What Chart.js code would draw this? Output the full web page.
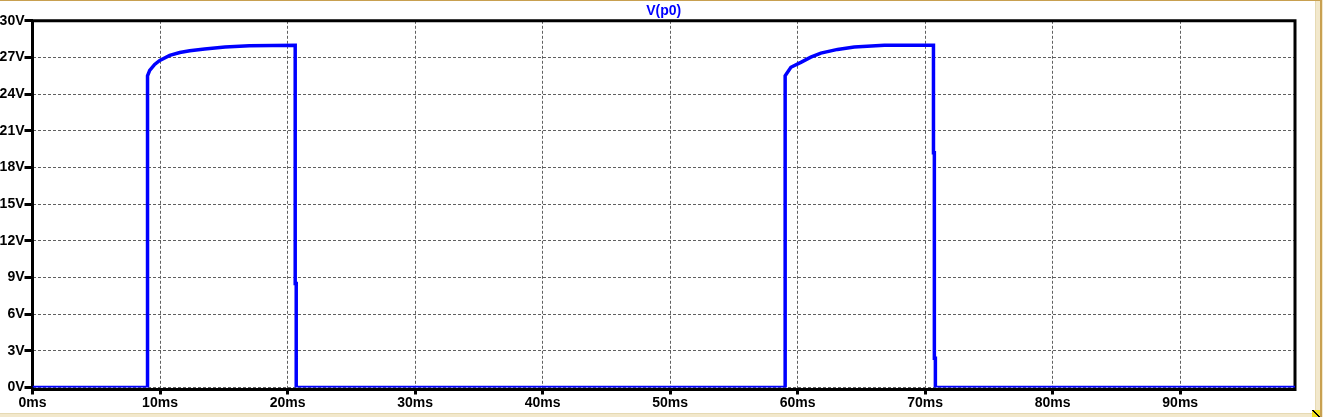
<!DOCTYPE html>
<html>
<head>
<meta charset="utf-8">
<script src="https://cdn.jsdelivr.net/npm/chart.js@4/dist/chart.umd.min.js"></script>
<style>
  html, body { margin: 0; padding: 0; background: #ffffff; width: 1323px; height: 417px; overflow: hidden; }
  #wrap { position: absolute; left: 0; top: 1px; width: 1315px; height: 412px; }
  .chrome { position: absolute; }
</style>
</head>
<body>
<div class="chrome" style="left:0;top:0;width:1321px;height:1px;background:#C8A050"></div>
<div class="chrome" style="left:1315px;top:1px;width:1px;height:413px;background:#E6DAB4"></div>
<div class="chrome" style="left:1316px;top:1px;width:4px;height:416px;background:#F2E8CC"></div>
<div class="chrome" style="left:1320px;top:0;width:2px;height:417px;background:#C8A050"></div>
<div class="chrome" style="left:1322px;top:0;width:1px;height:417px;background:#F2E8CC"></div>
<div class="chrome" style="left:0;top:413px;width:1316px;height:1px;background:#E6DAB4"></div>
<div class="chrome" style="left:0;top:414px;width:1316px;height:3px;background:#F2E8CC"></div>
<div class="chrome" style="left:1312px;top:410px;width:8px;height:7px;background:#F0E020;background-image:linear-gradient(45deg, transparent 40%, #000 40%, #000 55%, transparent 55%);"></div>
<div id="wrap"><canvas id="c" width="1315" height="412"></canvas></div>
<script>
// ---- data ----
const traceName = 'V(p0)';
const timeMs = [
  0, 9.02, 9.02, 9.19, 9.58, 9.98, 10.76, 11.55, 12.33, 13.5, 15.1, 17.0, 20.6,
  20.6, 20.68, 20.68,
  59.02, 59.02, 59.47, 60.25, 61.03, 61.82, 63.13, 64.44, 66.8, 70.65,
  70.65, 70.72, 70.72, 70.8, 70.8, 99.0
];
const voltage = [
  0, 0, 25.5, 25.94, 26.43, 26.76, 27.17, 27.41, 27.55, 27.7, 27.85, 27.96, 28.0,
  8.5, 8.5, 0,
  0, 25.5, 26.2, 26.6, 27.03, 27.36, 27.66, 27.85, 27.99, 28.0,
  19.2, 19.2, 2.4, 2.4, 0, 0
];
const xTicks = [0, 10, 20, 30, 40, 50, 60, 70, 80, 90];
const yTicks = [0, 3, 6, 9, 12, 15, 18, 21, 24, 27, 30];
const xMax = 99.0;
const yMax = 30;

const points = timeMs.map((t, i) => ({ x: t, y: voltage[i] }));

const framePlugin = {
  id: 'frame',
  beforeDatasetsDraw(chart) {
    const { ctx, chartArea: a } = chart;
    ctx.save();
    ctx.strokeStyle = '#000';
    ctx.lineWidth = 3;
    ctx.beginPath();
    ctx.rect(a.left, a.top, a.right - a.left, a.bottom - a.top + 2);
    ctx.stroke();
    ctx.restore();
  }
};

const tickFont = { family: 'Liberation Sans', size: 14, weight: 'bold' };

new Chart(document.getElementById('c'), {
  type: 'line',
  data: {
    datasets: [{
      label: traceName,
      data: points,
      borderColor: '#0000FF',
      borderWidth: 3.5,
      pointRadius: 0,
      tension: 0,
      fill: false
    }]
  },
  plugins: [framePlugin],
  options: {
    responsive: false,
    devicePixelRatio: 1,
    animation: false,
    events: [],
    layout: { padding: { left: 0, right: 20, top: 0, bottom: 0 } },
    plugins: {
      legend: { display: false },
      tooltip: { enabled: false },
      title: {
        display: true,
        text: traceName,
        color: '#0000FF',
        fullSize: false,
        font: { family: 'Liberation Sans', size: 14, weight: 'bold' },
        padding: { top: 1.5, bottom: 1.5 }
      }
    },
    scales: {
      x: {
        type: 'linear',
        min: 0,
        max: xMax,
        afterBuildTicks: s => { s.ticks = xTicks.map(v => ({ value: v })); },
        afterFit: s => { s.height = 25.5; },
        grid: {
          color: '#606060',
          lineWidth: 1,
          tickColor: '#000',
          tickWidth: 3,
          tickLength: 7
        },
        border: { display: false, dash: [3, 2] },
        ticks: {
          autoSkip: false,
          maxRotation: 0,
          padding: 0,
          color: '#000',
          font: tickFont,
          callback: v => v + 'ms'
        }
      },
      y: {
        type: 'linear',
        min: 0,
        max: yMax,
        afterBuildTicks: s => { s.ticks = yTicks.map(v => ({ value: v })); },
        afterFit: s => { s.width = 32.5; },
        grid: {
          color: '#606060',
          lineWidth: 1,
          tickColor: '#000',
          tickWidth: 3,
          tickLength: 8
        },
        border: { display: false, dash: [3, 2] },
        ticks: {
          autoSkip: false,
          padding: 0,
          color: '#000',
          font: tickFont,
          callback: v => v + 'V'
        }
      }
    }
  }
});
</script>
</body>
</html>
